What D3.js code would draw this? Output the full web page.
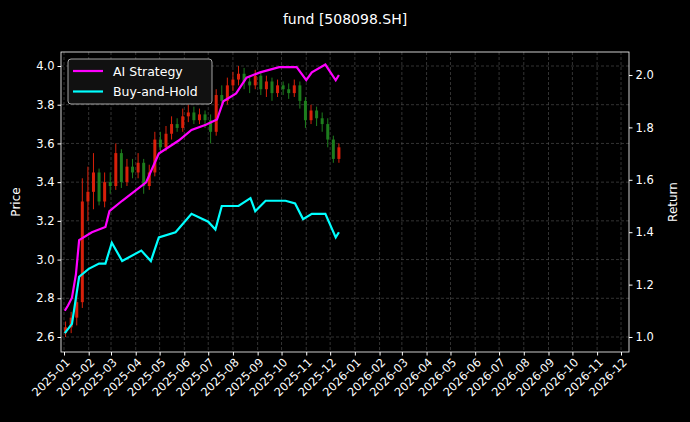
<!DOCTYPE html>
<html><head><meta charset="utf-8">
<script src="https://cdn.jsdelivr.net/npm/d3@7"></script>
<style>body{margin:0;background:#000}svg{display:block}text{font-family:"DejaVu Sans",sans-serif}</style>
</head><body><svg id="c" width="690" height="422"></svg>
<script>
const title = "fund [508098.SH]";
const candleDates = ["2025-01-03","2025-01-10","2025-01-17","2025-01-24","2025-01-31","2025-02-07","2025-02-14","2025-02-21","2025-02-28","2025-03-07","2025-03-14","2025-03-21","2025-03-28","2025-04-04","2025-04-11","2025-04-18","2025-04-25","2025-05-02","2025-05-09","2025-05-16","2025-05-23","2025-05-30","2025-06-06","2025-06-13","2025-06-20","2025-06-27","2025-07-04","2025-07-11","2025-07-18","2025-07-25","2025-08-01","2025-08-08","2025-08-15","2025-08-22","2025-08-29","2025-09-05","2025-09-12","2025-09-19","2025-09-26","2025-10-03","2025-10-10","2025-10-17","2025-10-24","2025-10-31","2025-11-07","2025-11-14","2025-11-21","2025-11-28","2025-12-05","2025-12-12"];
const openP  = [2.62,2.65,2.70,2.78,3.30,3.35,3.45,3.30,3.40,3.38,3.55,3.40,3.48,3.45,3.50,3.38,3.45,3.62,3.58,3.65,3.70,3.68,3.74,3.76,3.72,3.75,3.72,3.66,3.85,3.82,3.90,3.93,3.96,3.92,3.90,3.95,3.88,3.92,3.86,3.90,3.88,3.86,3.90,3.82,3.72,3.77,3.73,3.70,3.62,3.52];
const closeP = [2.65,2.70,2.78,3.30,3.35,3.45,3.30,3.40,3.38,3.55,3.40,3.48,3.45,3.50,3.38,3.45,3.62,3.58,3.65,3.70,3.68,3.74,3.76,3.72,3.75,3.72,3.66,3.85,3.82,3.90,3.93,3.96,3.92,3.90,3.95,3.88,3.92,3.86,3.90,3.88,3.86,3.90,3.82,3.72,3.77,3.73,3.70,3.62,3.52,3.58];
const highP  = [2.68,2.73,2.82,3.42,3.48,3.55,3.47,3.45,3.45,3.60,3.57,3.52,3.52,3.55,3.52,3.49,3.66,3.66,3.69,3.74,3.73,3.78,3.80,3.79,3.78,3.77,3.75,3.88,3.90,3.94,3.97,4.00,3.99,3.95,3.98,3.97,3.95,3.94,3.93,3.92,3.91,3.93,3.92,3.84,3.80,3.79,3.76,3.73,3.64,3.60];
const lowP   = [2.60,2.62,2.66,2.75,3.20,3.26,3.28,3.27,3.34,3.36,3.37,3.38,3.42,3.42,3.34,3.36,3.43,3.55,3.56,3.62,3.66,3.66,3.71,3.70,3.70,3.68,3.60,3.64,3.79,3.80,3.87,3.90,3.88,3.86,3.88,3.85,3.84,3.82,3.84,3.85,3.83,3.84,3.78,3.68,3.70,3.69,3.66,3.58,3.50,3.50];
const aiDates = ["2025-01-02","2025-01-06","2025-01-11","2025-01-16","2025-01-20","2025-02-05","2025-02-22","2025-02-27","2025-03-15","2025-03-28","2025-04-14","2025-04-30","2025-05-25","2025-06-10","2025-06-28","2025-07-12","2025-07-20","2025-08-05","2025-08-18","2025-09-04","2025-09-28","2025-10-20","2025-11-01","2025-11-08","2025-11-25","2025-12-08","2025-12-12"];
const aiVals  = [1.10,1.12,1.15,1.24,1.37,1.40,1.42,1.48,1.52,1.55,1.59,1.70,1.75,1.79,1.81,1.83,1.90,1.93,1.99,2.01,2.03,2.03,1.98,2.01,2.04,1.98,2.00];
const bhDates = ["2025-01-02","2025-01-11","2025-01-20","2025-02-01","2025-02-14","2025-02-22","2025-03-02","2025-03-15","2025-04-08","2025-04-20","2025-04-30","2025-05-21","2025-06-10","2025-07-01","2025-07-10","2025-07-18","2025-08-08","2025-08-23","2025-08-29","2025-09-11","2025-10-06","2025-10-18","2025-10-28","2025-11-08","2025-11-25","2025-12-08","2025-12-12"];
const bhVals  = [1.015,1.05,1.23,1.26,1.28,1.28,1.36,1.29,1.33,1.29,1.38,1.40,1.47,1.44,1.41,1.50,1.50,1.53,1.48,1.52,1.52,1.51,1.45,1.47,1.47,1.38,1.40];
const priceTicks = [2.6,2.8,3.0,3.2,3.4,3.6,3.8,4.0];
const retTicks = [1.0,1.2,1.4,1.6,1.8,2.0];

const svg = d3.select("#c");
const L=61,R=629,T=52,B=352;
const pd = d3.timeParse("%Y-%m-%d");
const x0 = d3.scaleTime().domain([pd("2025-01-01"),pd("2026-12-01")]).range([64,621]);
const x = x0.copy().domain([x0.invert(L),x0.invert(R)]).range([L,R]);
const yP = d3.scaleLinear().domain([2.6,4.0]).range([337,66]);
const yR = d3.scaleLinear().domain([1.0,2.0]).range([337,75]);
const months = d3.timeMonth.range(pd("2025-01-01"),pd("2027-01-01"));

svg.append("text").attr("x",345).attr("y",24).attr("text-anchor","middle").attr("fill","#fff").attr("font-size",14).text(title);
const g = svg.append("g");
g.selectAll(".vg").data(months).join("line").attr("x1",d=>x(d)).attr("x2",d=>x(d)).attr("y1",T).attr("y2",B)
 .attr("stroke","#555").attr("stroke-width",0.6).attr("stroke-dasharray","3,2");
g.selectAll(".hg").data(priceTicks).join("line").attr("x1",L).attr("x2",R).attr("y1",d=>yP(d)).attr("y2",d=>yP(d))
 .attr("stroke","#555").attr("stroke-width",0.6).attr("stroke-dasharray","3,2");

const cd = candleDates.map((d,i)=>({d:pd(d),o:openP[i],c:closeP[i],h:highP[i],l:lowP[i]}));
const col = d=> d.c>=d.o ? "#d8200a" : "#1d7d1d";
svg.append("g").selectAll("line").data(cd).join("line").attr("x1",d=>x(d.d)).attr("x2",d=>x(d.d))
 .attr("y1",d=>yP(d.h)).attr("y2",d=>yP(d.l)).attr("stroke",col).attr("stroke-width",1);
svg.append("g").selectAll("rect").data(cd).join("rect").attr("x",d=>x(d.d)-1.5).attr("width",3)
 .attr("y",d=>yP(Math.max(d.o,d.c))).attr("height",d=>Math.max(1,Math.abs(yP(d.o)-yP(d.c)))).attr("fill",col);

const line = d3.line().x(d=>x(d[0])).y(d=>yR(d[1]));
svg.append("path").datum(aiDates.map((d,i)=>[pd(d),aiVals[i]])).attr("d",line).attr("fill","none").attr("stroke","#ff00ff").attr("stroke-width",2.2);
svg.append("path").datum(bhDates.map((d,i)=>[pd(d),bhVals[i]])).attr("d",line).attr("fill","none").attr("stroke","#00ffff").attr("stroke-width",2.2);

svg.append("rect").attr("x",L).attr("y",T).attr("width",R-L).attr("height",B-T).attr("fill","none").attr("stroke","#fff").attr("stroke-width",0.8);
const ax = svg.append("g").attr("transform",`translate(0,${B})`).call(d3.axisBottom(x).tickValues(months).tickFormat(d3.timeFormat("%Y-%m")).tickSize(3.5));
ax.select(".domain").remove();
ax.selectAll("line").attr("stroke","#fff");
ax.selectAll("text").attr("fill","#fff").attr("font-size",11.5).attr("text-anchor","end")
 .attr("transform","rotate(-45)").attr("dx","-0.3em").attr("dy","0.5em");
const ay = svg.append("g").attr("transform",`translate(${L},0)`).call(d3.axisLeft(yP).tickValues(priceTicks).tickFormat(d3.format(".1f")).tickSize(3.5));
ay.select(".domain").remove(); ay.selectAll("line").attr("stroke","#fff"); ay.selectAll("text").attr("fill","#fff").attr("font-size",11.5);
const ar = svg.append("g").attr("transform",`translate(${R},0)`).call(d3.axisRight(yR).tickValues(retTicks).tickFormat(d3.format(".1f")).tickSize(3.5));
ar.select(".domain").remove(); ar.selectAll("line").attr("stroke","#fff"); ar.selectAll("text").attr("fill","#fff").attr("font-size",11.5);
svg.append("text").attr("transform","translate(20,202) rotate(-90)").attr("text-anchor","middle").attr("fill","#fff").attr("font-size",12).text("Price");
svg.append("text").attr("transform","translate(677,202) rotate(-90)").attr("text-anchor","middle").attr("fill","#fff").attr("font-size",12).text("Return");

const lg = svg.append("g");
lg.append("rect").attr("x",68).attr("y",59).attr("width",144).attr("height",45).attr("rx",3).attr("fill","#111").attr("stroke","#ccc").attr("stroke-width",0.8);
[["AI Strategy","#ff00ff"],["Buy-and-Hold","#00ffff"]].forEach((s,i)=>{
  const yy=71+i*20.5;
  lg.append("line").attr("x1",73).attr("x2",103).attr("y1",yy).attr("y2",yy).attr("stroke",s[1]).attr("stroke-width",2.2);
  lg.append("text").attr("x",113).attr("y",yy+4.5).attr("fill","#fff").attr("font-size",12.5).text(s[0]);
});
</script></body></html>
